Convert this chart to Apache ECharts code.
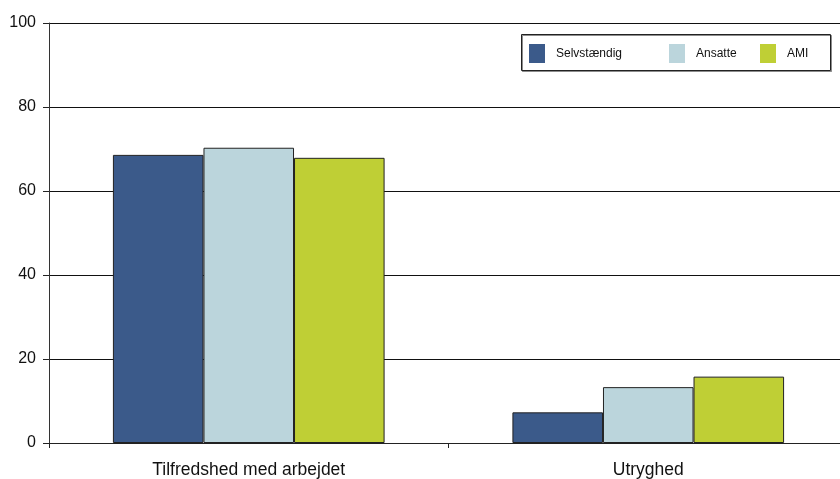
<!DOCTYPE html>
<html><head><meta charset="utf-8">
<script src="https://cdn.jsdelivr.net/npm/echarts@6/dist/echarts.min.js"></script>
<style>html,body{margin:0;padding:0;background:#fff}#c{width:840px;height:479px}</style>
</head><body><div id="c"></div>
<script>
const categories = ['Tilfredshed med arbejdet', 'Utryghed'];
const seriesNames = ['Selvstændig', 'Ansatte', 'AMI'];
const selvstaendig = [68.6, 7.3];
const ansatte = [70.3, 13.3];
const ami = [67.9, 15.8];
const yTicks = [0, 20, 40, 60, 80, 100];

const colors = ['#3b5a8a', '#bbd5dc', '#bfcf35'];
const values = [selvstaendig, ansatte, ami];
const FONT = '"Liberation Sans", "DejaVu Sans", sans-serif';

const chart = echarts.init(document.getElementById('c'));
const legendLefts = [524, 664, 755];
chart.setOption({
  animation: false,
  backgroundColor: '#fff',
  grid: { left: 49, top: 23, right: -8, bottom: 36, containLabel: false, outerBoundsMode: 'none' },
  legend: seriesNames.map((n, i) => ({
    data: [n], left: legendLefts[i], top: 39, itemWidth: 16, itemHeight: 19,
    itemGap: 10, icon: 'rect', selectedMode: false,
    itemStyle: { borderWidth: 0 },
    textStyle: { fontFamily: FONT, fontSize: 12, color: '#111', padding: [0, 0, 0, 6] }
  })),
  graphic: [{
    type: 'rect', shape: { x: 521.5, y: 34.5, width: 309, height: 36 },
    style: { fill: 'none', stroke: '#222', lineWidth: 1, shadowColor: 'rgba(0,0,0,0.45)', shadowOffsetX: 1, shadowOffsetY: 1, shadowBlur: 0 },
    z: 100
  }],
  xAxis: {
    type: 'category', data: categories,
    axisLine: { lineStyle: { color: '#222', width: 1 } },
    axisTick: { show: true, length: 5, lineStyle: { color: '#222' }, alignWithLabel: false },
    axisLabel: { fontFamily: FONT, fontSize: 17.5, color: '#111', margin: 18 }
  },
  yAxis: {
    type: 'value', min: yTicks[0], max: yTicks[yTicks.length - 1], interval: 20,
    axisLine: { show: true, lineStyle: { color: '#333', width: 1 } },
    axisTick: { show: true, length: 6, lineStyle: { color: '#222' } },
    axisLabel: { fontFamily: FONT, fontSize: 16, color: '#111', margin: 13, padding: [0, 0, 5, 0] },
    splitLine: { show: true, lineStyle: { color: '#111', width: 1 } }
  },
  series: seriesNames.map((n, i) => ({
    name: n, type: 'bar', data: values[i],
    barGap: '0%', barCategoryGap: '32%',
    itemStyle: { color: colors[i], borderColor: '#222', borderWidth: 1 }
  }))
});
</script></body></html>
